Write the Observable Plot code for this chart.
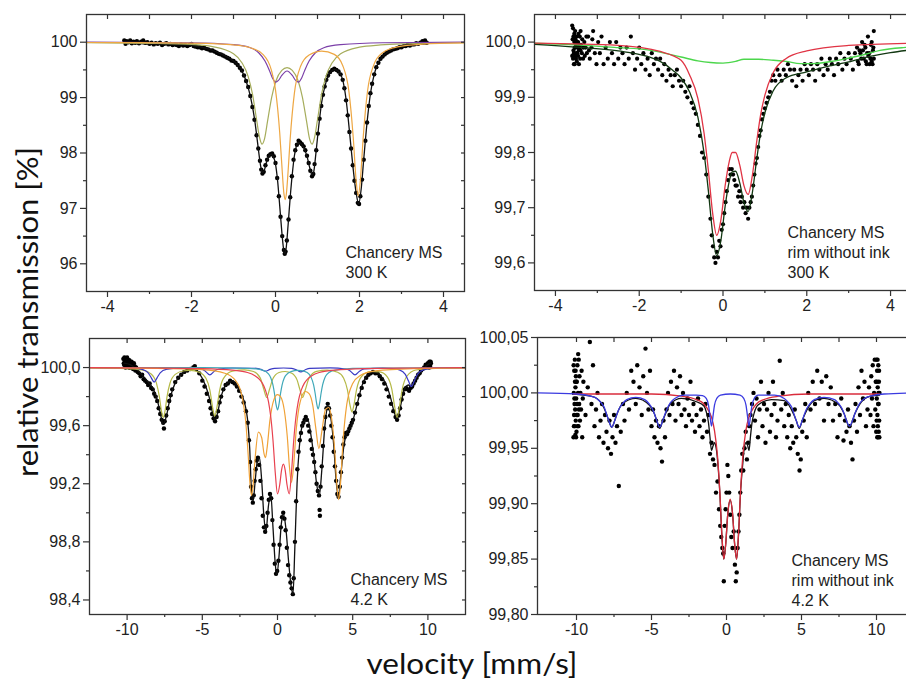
<!DOCTYPE html>
<html><head><meta charset="utf-8">
<script src="https://cdn.jsdelivr.net/npm/d3@7"></script>
<script src="https://cdn.jsdelivr.net/npm/@observablehq/plot@0.6"></script>
<style>
body{margin:0;background:#fff;}
#wrap{position:relative;width:906px;height:689px;overflow:hidden;background:#fff;}
.panel{position:absolute;width:470px;}
.panel svg{max-width:none !important;}
#labels{position:absolute;left:0;top:0;pointer-events:none;}
</style></head><body><div id="wrap">
<div class="panel" id="tl" style="left:0;top:0"></div>
<div class="panel" id="tr" style="left:450px;top:0"></div>
<div class="panel" id="bl" style="left:0;top:310px"></div>
<div class="panel" id="br" style="left:450px;top:310px"></div>
<svg id="labels" width="906" height="689" font-family="Lato, 'Open Sans', sans-serif" fill="#111">
<text transform="translate(38,312) rotate(-90)" text-anchor="middle" font-size="28" textLength="330" lengthAdjust="spacingAndGlyphs">relative transmission [%]</text>
<text x="472" y="674" text-anchor="middle" font-size="28" textLength="211" lengthAdjust="spacingAndGlyphs">velocity [mm/s]</text>
</svg>
</div>
<script>
// ---------- Top-left: Chancery MS, 300 K ----------
const tlData = [[-3.60,100.03],[-3.57,99.97],[-3.54,100.02],[-3.50,100.00],[-3.46,100.03],[-3.42,99.98],[-3.38,100.01],[-3.34,99.99],[-3.30,100.02],[-3.25,99.98],[-3.20,100.01],[-3.15,100.03],[-3.10,99.99],[-3.05,100.00],[-3.00,99.97],[-2.95,99.99],[-2.90,99.96],[-2.85,99.98],[-2.80,99.97],[-2.75,99.99],[-2.70,99.95],[-2.65,99.97],[-2.60,99.98],[-2.55,99.96],[-2.50,99.97],[-2.45,99.95],[-2.40,99.96],[-2.35,99.95],[-2.30,99.93],[-2.25,99.96],[-2.20,99.94],[-2.15,99.95],[-2.10,99.93],[-2.05,99.95],[-2.00,99.97],[-1.95,99.93],[-1.90,99.92],[-1.85,99.91],[-1.80,99.91],[-1.75,99.89],[-1.70,99.90],[-1.65,99.88],[-1.60,99.87],[-1.55,99.85],[-1.50,99.85],[-1.45,99.83],[-1.40,99.81],[-1.35,99.79],[-1.30,99.78],[-1.25,99.76],[-1.20,99.74],[-1.15,99.72],[-1.10,99.70],[-1.05,99.67],[-1.00,99.66],[-0.95,99.63],[-0.90,99.59],[-0.85,99.54],[-0.80,99.49],[-0.75,99.40],[-0.70,99.30],[-0.65,99.19],[-0.60,99.03],[-0.55,98.83],[-0.50,98.60],[-0.45,98.32],[-0.41,98.08],[-0.37,97.86],[-0.34,97.70],[-0.31,97.63],[-0.28,97.66],[-0.24,97.78],[-0.20,97.88],[-0.16,97.95],[-0.12,97.98],[-0.08,97.99],[-0.04,97.94],[0.00,97.82],[0.04,97.55],[0.08,97.22],[0.12,96.85],[0.16,96.50],[0.20,96.25],[0.22,96.18],[0.24,96.22],[0.27,96.42],[0.31,96.80],[0.35,97.20],[0.39,97.58],[0.43,97.88],[0.47,98.05],[0.51,98.15],[0.55,98.22],[0.59,98.19],[0.63,98.16],[0.67,98.12],[0.71,98.05],[0.75,97.95],[0.79,97.82],[0.83,97.68],[0.87,97.58],[0.90,97.62],[0.93,97.80],[0.97,98.05],[1.01,98.35],[1.05,98.62],[1.09,98.85],[1.13,99.05],[1.17,99.20],[1.21,99.32],[1.25,99.40],[1.30,99.46],[1.35,99.50],[1.40,99.52],[1.45,99.50],[1.50,99.47],[1.55,99.42],[1.60,99.32],[1.64,99.17],[1.68,98.95],[1.72,98.68],[1.76,98.38],[1.80,98.08],[1.84,97.78],[1.88,97.50],[1.92,97.28],[1.96,97.10],[1.99,97.08],[2.02,97.22],[2.06,97.52],[2.10,97.88],[2.14,98.22],[2.18,98.55],[2.22,98.85],[2.26,99.08],[2.30,99.25],[2.35,99.42],[2.40,99.55],[2.45,99.63],[2.50,99.70],[2.55,99.74],[2.60,99.78],[2.65,99.81],[2.70,99.83],[2.75,99.85],[2.80,99.87],[2.85,99.88],[2.90,99.89],[2.95,99.91],[3.00,99.91],[3.05,99.93],[3.10,99.93],[3.15,99.95],[3.20,99.94],[3.25,99.96],[3.30,99.96],[3.35,99.98],[3.40,99.97],[3.45,99.99],[3.50,100.02],[3.53,100.00],[3.56,100.03],[3.60,99.99]];
const tlFit = [[-3.6,99.99],[-3.0,99.97],[-2.5,99.96],[-2.0,99.94],[-1.6,99.88],[-1.3,99.79],[-1.1,99.71],[-1.0,99.66],[-0.9,99.59],[-0.8,99.48],[-0.7,99.30],[-0.6,99.03],[-0.5,98.62],[-0.45,98.33],[-0.4,98.02],[-0.35,97.75],[-0.31,97.65],[-0.27,97.68],[-0.22,97.82],[-0.16,97.94],[-0.1,97.98],[-0.05,97.93],[0.0,97.80],[0.05,97.50],[0.1,97.05],[0.15,96.58],[0.19,96.28],[0.22,96.18],[0.25,96.26],[0.3,96.70],[0.35,97.20],[0.4,97.62],[0.45,97.95],[0.5,98.13],[0.55,98.19],[0.6,98.17],[0.67,98.10],[0.75,97.94],[0.82,97.72],[0.87,97.60],[0.91,97.66],[0.96,97.98],[1.02,98.42],[1.1,98.92],[1.2,99.27],[1.3,99.45],[1.4,99.51],[1.5,99.47],[1.6,99.32],[1.68,98.97],[1.76,98.40],[1.84,97.78],[1.92,97.28],[1.98,97.08],[2.04,97.35],[2.1,97.88],[2.18,98.55],[2.26,99.07],[2.35,99.42],[2.45,99.63],[2.6,99.78],[2.8,99.87],[3.0,99.92],[3.3,99.95],[3.6,99.97]];
const tlOlive = [[-4.5,99.99],[-3,99.98],[-2,99.96],[-1.5,99.92],[-1,99.79],[-0.8,99.63],[-0.65,99.38],[-0.55,99.07],[-0.45,98.60],[-0.38,98.28],[-0.32,98.16],[-0.26,98.26],[-0.19,98.57],[-0.09,99.01],[0.01,99.30],[0.15,99.49],[0.275,99.54],[0.4,99.49],[0.54,99.30],[0.64,99.01],[0.74,98.57],[0.81,98.26],[0.87,98.16],[0.93,98.28],[1.0,98.60],[1.1,99.07],[1.2,99.38],[1.35,99.63],[1.55,99.79],[2.0,99.91],[2.5,99.95],[3.0,99.97],[4.5,99.99]];
const tlPurple = [[-4.5,100.0],[-2,99.99],[-1,99.955],[-0.6,99.90],[-0.4,99.81],[-0.25,99.66],[-0.15,99.50],[-0.07,99.35],[0,99.28],[0.07,99.31],[0.15,99.40],[0.275,99.48],[0.4,99.40],[0.48,99.31],[0.55,99.28],[0.62,99.35],[0.7,99.50],[0.8,99.66],[0.95,99.81],[1.15,99.90],[1.55,99.955],[2.55,99.99],[4.5,100.0]];
const tlOrange = [[-4.5,99.995],[-3.5,99.993],[-2.5,99.989],[-1.5,99.974],[-1,99.952],[-0.6,99.90],[-0.3,99.78],[-0.1,99.50],[0,99.14],[0.1,98.37],[0.15,97.79],[0.2,97.27],[0.23,97.16],[0.26,97.27],[0.3,97.67],[0.35,98.26],[0.45,99.08],[0.6,99.57],[0.8,99.77],[1.1,99.84],[1.4,99.78],[1.6,99.58],[1.75,99.10],[1.85,98.29],[1.92,97.50],[1.97,97.225],[2.02,97.50],[2.09,98.30],[2.19,99.11],[2.34,99.59],[2.55,99.81],[2.9,99.915],[3.5,99.964],[4.5,99.987]];
const tlXTicks = [-4,-2,0,2,4], tlXMinor = [-3,-1,1,3];
const tlYTicks = [96,97,98,99,100], tlYMinor = [96.5,97.5,98.5,99.5];

// ---------- Top-right: rim without ink, 300 K ----------
const trData = [[-3.60,100.03],[-3.60,99.975],[-3.59,100.005],[-3.58,99.97],[-3.58,100.025],[-3.57,100.01],[-3.57,99.985],[-3.56,99.98],[-3.56,99.96],[-3.55,100.00],[-3.55,100.015],[-3.54,99.96],[-3.54,99.99],[-3.53,100.02],[-3.53,99.975],[-3.52,99.99],[-3.52,100.005],[-3.51,99.97],[-3.51,99.995],[-3.50,100.01],[-3.50,99.98],[-3.49,99.965],[-3.48,99.98],[-3.48,100.00],[-3.47,99.99],[-3.46,100.00],[-3.46,99.975],[-3.45,100.015],[-3.44,99.96],[-3.44,99.985],[-3.43,99.995],[-3.42,99.99],[-3.42,100.01],[-3.41,99.97],[-3.40,100.02],[-3.40,99.985],[-3.39,99.995],[-3.37,99.98],[-3.36,100.005],[-3.34,99.97],[-3.33,99.99],[-3.31,100.00],[-3.30,99.975],[-3.28,99.99],[-3.26,100.01],[-3.25,99.98],[-3.22,100.01],[-3.20,99.985],[-3.18,99.97],[-3.14,99.99],[-3.12,100.005],[-3.10,100.02],[-3.06,99.98],[-3.02,99.96],[-2.98,100.00],[-2.94,99.98],[-2.90,100.01],[-2.85,99.96],[-2.80,99.99],[-2.75,99.97],[-2.70,100.00],[-2.65,99.98],[-2.60,99.96],[-2.55,100.00],[-2.50,99.97],[-2.45,99.99],[-2.40,99.98],[-2.35,99.96],[-2.30,99.99],[-2.25,99.97],[-2.20,100.01],[-2.15,99.98],[-2.10,99.95],[-2.05,99.97],[-2.00,99.99],[-1.95,99.96],[-1.90,99.98],[-1.85,99.95],[-1.80,99.97],[-1.75,99.94],[-1.70,99.98],[-1.65,99.96],[-1.60,99.97],[-1.55,99.95],[-1.50,99.97],[-1.45,99.94],[-1.40,99.96],[-1.35,99.93],[-1.30,99.95],[-1.25,99.94],[-1.20,99.92],[-1.15,99.94],[-1.10,99.95],[-1.05,99.93],[-1.00,99.92],[-0.95,99.93],[-0.90,99.91],[-0.85,99.90],[-0.80,99.92],[-0.75,99.89],[-0.70,99.88],[-0.65,99.87],[-0.60,99.85],[-0.55,99.83],[-0.50,99.80],[-0.45,99.79],[-0.40,99.76],[-0.35,99.72],[-0.30,99.68],[-0.27,99.65],[-0.24,99.63],[-0.21,99.61],[-0.18,99.60],[-0.15,99.62],[-0.12,99.61],[-0.09,99.64],[-0.06,99.63],[-0.03,99.66],[0.00,99.67],[0.03,99.69],[0.06,99.71],[0.09,99.73],[0.12,99.75],[0.15,99.77],[0.18,99.76],[0.21,99.77],[0.24,99.76],[0.27,99.75],[0.30,99.74],[0.33,99.74],[0.36,99.72],[0.39,99.73],[0.42,99.71],[0.45,99.72],[0.48,99.70],[0.51,99.71],[0.54,99.69],[0.57,99.70],[0.60,99.68],[0.63,99.70],[0.66,99.71],[0.69,99.72],[0.72,99.74],[0.75,99.76],[0.78,99.78],[0.81,99.79],[0.84,99.81],[0.87,99.83],[0.90,99.84],[0.93,99.86],[0.96,99.87],[1.00,99.88],[1.04,99.89],[1.08,99.90],[1.12,99.91],[1.16,99.93],[1.20,99.94],[1.25,99.93],[1.30,99.95],[1.35,99.94],[1.40,99.93],[1.45,99.95],[1.50,99.94],[1.55,99.96],[1.60,99.95],[1.65,99.93],[1.70,99.95],[1.75,99.92],[1.80,99.94],[1.85,99.95],[1.90,99.93],[1.95,99.96],[2.00,99.95],[2.05,99.94],[2.10,99.96],[2.15,99.95],[2.20,99.93],[2.25,99.96],[2.30,99.95],[2.35,99.97],[2.40,99.94],[2.45,99.96],[2.50,99.95],[2.55,99.97],[2.60,99.96],[2.65,99.94],[2.70,99.97],[2.75,99.96],[2.80,99.98],[2.85,99.95],[2.90,99.97],[2.95,99.96],[3.00,99.98],[3.05,99.97],[3.10,99.95],[3.15,99.98],[3.20,99.99],[3.22,99.965],[3.24,99.96],[3.26,99.985],[3.28,99.98],[3.30,99.97],[3.32,100.00],[3.34,99.985],[3.36,99.97],[3.38,99.995],[3.40,99.99],[3.41,99.965],[3.43,99.96],[3.44,99.98],[3.46,100.01],[3.47,99.975],[3.49,99.98],[3.50,99.96],[3.52,99.97],[3.53,99.995],[3.55,100.00],[3.55,99.965],[3.57,99.96],[3.58,99.985],[3.59,99.99],[3.60,100.02],[3.60,99.97]];
const trRed = [[-4.5,99.998],[-2.5,99.994],[-1.5,99.983],[-1.0,99.967],[-0.8,99.941],[-0.6,99.898],[-0.45,99.834],[-0.35,99.768],[-0.25,99.692],[-0.15,99.650],[-0.05,99.678],[0.05,99.739],[0.15,99.784],[0.22,99.80],[0.3,99.80],[0.4,99.777],[0.5,99.74],[0.6,99.724],[0.7,99.758],[0.8,99.817],[0.9,99.869],[1.0,99.904],[1.2,99.945],[1.5,99.97],[2,99.984],[3,99.994],[4.5,99.998]];
const trGreen = [[-4.5,99.998],[-3.5,99.995],[-2.5,99.99],[-1.8,99.986],[-1.0,99.973],[-0.6,99.966],[-0.3,99.963],[0.0,99.962],[0.3,99.965],[0.5,99.969],[0.85,99.969],[1.2,99.967],[1.5,99.965],[1.85,99.961],[2.15,99.961],[2.5,99.964],[2.95,99.970],[3.4,99.978],[3.75,99.985],[4.3,99.99],[4.5,99.991]];
const trFit = [[-4.5,99.996],[-3.5,99.991],[-2.5,99.984],[-1.8,99.974],[-1.5,99.965],[-1.2,99.949],[-1.0,99.935],[-0.8,99.91],[-0.6,99.864],[-0.45,99.798],[-0.35,99.731],[-0.25,99.655],[-0.15,99.613],[-0.05,99.641],[0.05,99.702],[0.15,99.748],[0.22,99.765],[0.3,99.766],[0.4,99.745],[0.5,99.709],[0.6,99.693],[0.7,99.727],[0.8,99.785],[0.9,99.837],[1.0,99.872],[1.2,99.912],[1.5,99.935],[2.0,99.946],[2.5,99.956],[3.0,99.964],[3.5,99.974],[4.0,99.981],[4.5,99.986]];
const trYTicks = [99.6,99.7,99.8,99.9,100.0], trYMinor = [99.65,99.75,99.85,99.95];

// ---------- Bottom-left: Chancery MS, 4.2 K ----------
const blData = [[-10.25,100.06],[-10.22,100.03],[-10.20,100.02],[-10.18,100.07],[-10.15,100.05],[-10.12,100.01],[-10.10,100.00],[-10.08,100.04],[-10.05,100.04],[-10.02,100.02],[-10.00,100.07],[-9.97,100.03],[-9.95,100.01],[-9.92,100.05],[-9.90,100.03],[-9.87,100.00],[-9.85,100.05],[-9.82,100.03],[-9.80,100.00],[-9.75,100.02],[-9.70,100.04],[-9.65,100.01],[-9.60,99.99],[-9.55,100.03],[-9.50,100.01],[-9.45,99.98],[-9.40,100.00],[-9.30,99.97],[-9.20,99.96],[-9.10,99.94],[-9.00,99.95],[-8.90,99.92],[-8.80,99.91],[-8.70,99.90],[-8.60,99.88],[-8.50,99.89],[-8.40,99.86],[-8.30,99.85],[-8.20,99.82],[-8.10,99.80],[-8.00,99.77],[-7.90,99.72],[-7.80,99.68],[-7.70,99.64],[-7.60,99.62],[-7.55,99.58],[-7.50,99.63],[-7.40,99.67],[-7.30,99.72],[-7.20,99.77],[-7.10,99.81],[-7.00,99.85],[-6.80,99.90],[-6.60,99.93],[-6.40,99.95],[-6.20,99.97],[-6.00,99.98],[-5.80,99.99],[-5.60,100.00],[-5.50,100.01],[-5.40,99.99],[-5.20,99.96],[-5.00,99.91],[-4.85,99.87],[-4.70,99.82],[-4.55,99.77],[-4.45,99.72],[-4.35,99.68],[-4.25,99.65],[-4.15,99.63],[-4.05,99.66],[-3.95,99.70],[-3.85,99.76],[-3.75,99.80],[-3.60,99.85],[-3.45,99.88],[-3.30,99.89],[-3.15,99.91],[-3.00,99.90],[-2.85,99.89],[-2.70,99.87],[-2.55,99.84],[-2.40,99.80],[-2.25,99.76],[-2.10,99.70],[-1.98,99.62],[-1.90,99.50],[-1.82,99.35],[-1.76,99.18],[-1.70,99.10],[-1.64,99.07],[-1.58,99.12],[-1.52,99.22],[-1.45,99.30],[-1.38,99.36],[-1.30,99.38],[-1.22,99.33],[-1.14,99.22],[-1.06,99.10],[-0.98,98.98],[-0.90,98.90],[-0.82,98.87],[-0.74,98.91],[-0.66,99.00],[-0.58,99.09],[-0.50,99.13],[-0.42,99.10],[-0.34,98.95],[-0.26,98.78],[-0.18,98.65],[-0.10,98.58],[-0.02,98.60],[0.06,98.67],[0.14,98.78],[0.22,98.90],[0.30,98.97],[0.38,99.00],[0.46,98.96],[0.54,98.88],[0.62,98.76],[0.70,98.64],[0.78,98.57],[0.86,98.52],[0.94,98.48],[1.02,98.44],[1.08,98.55],[1.16,98.80],[1.24,99.08],[1.32,99.30],[1.40,99.42],[1.48,99.50],[1.56,99.55],[1.64,99.60],[1.72,99.62],[1.80,99.64],[1.88,99.66],[1.96,99.64],[2.04,99.60],[2.12,99.56],[2.20,99.50],[2.28,99.44],[2.36,99.40],[2.44,99.35],[2.52,99.28],[2.60,99.20],[2.68,99.15],[2.76,99.12],[2.80,99.02],[2.82,98.98],[2.86,99.18],[2.94,99.32],[3.02,99.46],[3.10,99.58],[3.18,99.66],[3.26,99.72],[3.34,99.75],[3.42,99.72],[3.50,99.67],[3.58,99.60],[3.66,99.52],[3.74,99.42],[3.82,99.32],[3.90,99.22],[3.98,99.13],[4.06,99.11],[4.14,99.18],[4.22,99.28],[4.30,99.38],[4.38,99.47],[4.46,99.52],[4.54,99.55],[4.62,99.54],[4.70,99.56],[4.78,99.58],[4.86,99.60],[4.94,99.62],[5.02,99.64],[5.15,99.69],[5.30,99.75],[5.45,99.81],[5.60,99.86],[5.75,99.90],[5.90,99.93],[6.05,99.95],[6.20,99.96],[6.35,99.97],[6.50,99.96],[6.65,99.96],[6.80,99.94],[6.95,99.92],[7.10,99.89],[7.25,99.85],[7.40,99.80],[7.55,99.75],[7.70,99.70],[7.85,99.66],[7.95,99.64],[8.05,99.67],[8.15,99.72],[8.25,99.78],[8.35,99.82],[8.45,99.85],[8.55,99.86],[8.65,99.85],[8.75,99.84],[8.85,99.86],[8.95,99.87],[9.05,99.89],[9.15,99.91],[9.25,99.93],[9.35,99.95],[9.45,99.96],[9.55,99.98],[9.65,99.99],[9.75,100.00],[9.85,100.02],[9.95,100.01],[10.00,100.03],[10.05,100.02],[10.08,100.00],[10.10,100.04],[10.12,100.02],[10.15,100.01],[10.18,100.04],[10.20,100.03]];
const blFit = [[-10.2,100.03],[-9.8,100.02],[-9.4,99.99],[-9.0,99.95],[-8.6,99.90],[-8.3,99.86],[-8.0,99.78],[-7.8,99.69],[-7.6,99.61],[-7.4,99.66],[-7.2,99.76],[-7.0,99.84],[-6.6,99.93],[-6.2,99.97],[-5.8,99.99],[-5.5,99.99],[-5.2,99.96],[-4.8,99.88],[-4.5,99.78],[-4.3,99.68],[-4.15,99.64],[-4.0,99.68],[-3.8,99.78],[-3.5,99.87],[-3.2,99.90],[-3.0,99.91],[-2.8,99.89],[-2.5,99.84],[-2.2,99.76],[-2.0,99.65],[-1.85,99.45],[-1.73,99.15],[-1.62,99.08],[-1.5,99.20],[-1.35,99.35],[-1.2,99.38],[-1.05,99.22],[-0.9,98.97],[-0.77,98.87],[-0.6,99.05],[-0.45,99.13],[-0.3,98.90],[-0.15,98.65],[-0.05,98.57],[0.1,98.70],[0.25,98.92],[0.4,98.99],[0.55,98.90],[0.75,98.65],[0.9,98.50],[1.03,98.44],[1.15,98.75],[1.3,99.20],[1.45,99.45],[1.6,99.58],[1.8,99.63],[2.0,99.65],[2.2,99.55],[2.4,99.40],[2.6,99.20],[2.78,99.12],[2.95,99.30],[3.15,99.60],[3.37,99.73],[3.55,99.65],[3.75,99.45],[3.9,99.22],[4.05,99.11],[4.2,99.25],[4.4,99.45],[4.6,99.55],[4.8,99.58],[5.0,99.63],[5.3,99.75],[5.6,99.87],[6.0,99.95],[6.4,99.97],[6.8,99.95],[7.2,99.89],[7.5,99.80],[7.8,99.68],[7.95,99.65],[8.15,99.72],[8.4,99.84],[8.7,99.88],[8.9,99.87],[9.2,99.92],[9.6,99.98],[10.0,100.02],[10.2,100.03]];
const blOlive = [[-12.5,99.998],[-10,99.993],[-9,99.983],[-8.4,99.956],[-8.05,99.893],[-7.85,99.797],[-7.72,99.704],[-7.6,99.656],[-7.48,99.70],[-7.35,99.797],[-7.15,99.892],[-6.8,99.953],[-6.2,99.978],[-5.8,99.98],[-5.2,99.968],[-4.75,99.925],[-4.5,99.847],[-4.3,99.718],[-4.17,99.666],[-4.04,99.719],[-3.84,99.847],[-3.6,99.924],[-3.0,99.975],[-2.2,99.984],[-1.6,99.973],[-1.15,99.929],[-0.9,99.847],[-0.72,99.794],[-0.54,99.847],[-0.3,99.924],[0.1,99.966],[0.5,99.973],[0.95,99.961],[1.3,99.915],[1.49,99.848],[1.67,99.794],[1.85,99.847],[2.1,99.928],[2.6,99.974],[3.3,99.982],[4.0,99.968],[4.4,99.927],[4.65,99.846],[4.83,99.737],[4.95,99.695],[5.07,99.736],[5.25,99.845],[5.6,99.94],[6.2,99.973],[6.8,99.97],[7.3,99.936],[7.6,99.852],[7.8,99.725],[7.95,99.657],[8.1,99.727],[8.3,99.854],[8.6,99.94],[9.2,99.983],[10.5,99.995],[12.5,99.998]];
const blBlue = [[-12.5,100.0],[-9.5,99.995],[-9,99.988],[-8.6,99.964],[-8.4,99.931],[-8.2,99.90],[-8.0,99.931],[-7.8,99.964],[-7.4,99.988],[-6.5,99.996],[-5.1,99.99],[-4.8,99.975],[-4.5,99.95],[-4.2,99.975],[-3.9,99.99],[-3,99.997],[-1.4,99.995],[-1.1,99.987],[-0.8,99.975],[-0.5,99.987],[-0.2,99.995],[0.4,99.997],[0.95,99.994],[1.25,99.985],[1.55,99.97],[1.85,99.985],[2.15,99.994],[3.5,99.998],[4.55,99.99],[4.85,99.975],[5.15,99.95],[5.45,99.975],[5.75,99.99],[7.0,99.996],[7.7,99.992],[8.1,99.984],[8.5,99.953],[8.7,99.91],[8.9,99.87],[9.1,99.91],[9.3,99.953],[9.7,99.984],[10.5,99.996],[12.5,99.999]];
const blTeal = [[-12.5,100.0],[-5,99.999],[-2,99.995],[-1,99.982],[-0.6,99.956],[-0.45,99.93],[-0.3,99.879],[-0.2,99.821],[-0.1,99.748],[0,99.708],[0.1,99.748],[0.2,99.82],[0.3,99.878],[0.45,99.928],[0.6,99.952],[0.9,99.972],[1.35,99.981],[1.8,99.974],[2.1,99.954],[2.25,99.929],[2.4,99.881],[2.5,99.825],[2.6,99.755],[2.7,99.716],[2.8,99.755],[2.9,99.825],[3.0,99.881],[3.15,99.93],[3.3,99.955],[3.6,99.976],[4.05,99.985],[5,99.995],[12.5,100.0]];
const blOrange = [[-12.5,99.998],[-8,99.995],[-5,99.986],[-3.5,99.961],[-2.8,99.912],[-2.4,99.82],[-2.1,99.613],[-1.95,99.40],[-1.83,99.20],[-1.73,99.12],[-1.63,99.18],[-1.5,99.36],[-1.27,99.556],[-1.05,99.517],[-0.9,99.41],[-0.8,99.38],[-0.7,99.44],[-0.5,99.64],[-0.25,99.776],[0,99.814],[0.2,99.80],[0.45,99.708],[0.65,99.525],[0.8,99.31],[0.93,99.21],[1.06,99.31],[1.25,99.577],[1.5,99.76],[1.85,99.835],[2.1,99.82],[2.35,99.737],[2.55,99.58],[2.75,99.442],[2.95,99.563],[3.2,99.713],[3.41,99.725],[3.6,99.648],[3.8,99.436],[3.95,99.19],[4.07,99.09],[4.19,99.20],[4.35,99.48],[4.6,99.743],[5.0,99.89],[5.5,99.945],[6.5,99.977],[9,99.992],[12.5,99.997]];
const blRed = [[-12.5,99.999],[-8,99.997],[-5,99.993],[-3,99.982],[-2,99.966],[-1.5,99.944],[-1.2,99.919],[-1.0,99.891],[-0.8,99.845],[-0.6,99.766],[-0.45,99.663],[-0.3,99.50],[-0.15,99.278],[0,99.13],[0.15,99.195],[0.27,99.294],[0.39,99.335],[0.51,99.294],[0.63,99.195],[0.78,99.13],[0.93,99.278],[1.08,99.50],[1.23,99.663],[1.38,99.766],[1.58,99.845],[1.78,99.891],[1.98,99.919],[2.28,99.944],[2.78,99.966],[3.78,99.982],[5.78,99.993],[8.78,99.997],[12.5,99.999]];
const lowXTicks = [-10,-5,0,5,10], lowXMinor = [-7.5,-2.5,2.5,7.5];
const blYTicks = [98.4,98.8,99.2,99.6,100.0], blYMinor = [98.6,99.0,99.4,99.8];

// ---------- Bottom-right: rim without ink, 4.2 K ----------
const brData = [[-10.20,99.96],[-10.19,100.025],[-10.18,100.00],[-10.17,99.97],[-10.16,99.98],[-10.15,100.02],[-10.14,99.995],[-10.13,99.99],[-10.12,99.97],[-10.11,100.03],[-10.10,100.01],[-10.09,99.985],[-10.08,99.962],[-10.07,100.005],[-10.06,100.02],[-10.05,99.975],[-10.04,100.015],[-10.03,99.96],[-10.02,99.995],[-10.01,100.01],[-10.00,99.965],[-9.99,99.98],[-9.98,100.01],[-9.96,99.99],[-9.94,100.025],[-9.93,99.97],[-9.92,99.98],[-9.90,100.00],[-9.89,100.035],[-9.87,99.97],[-9.85,100.03],[-9.84,99.985],[-9.82,99.99],[-9.80,100.015],[-9.77,99.975],[-9.74,100.00],[-9.70,99.985],[-9.66,100.02],[-9.62,99.96],[-9.58,99.995],[-9.54,100.01],[-9.40,99.98],[-9.25,100.005],[-9.11,100.046],[-9.00,99.99],[-8.90,100.025],[-8.80,99.97],[-8.70,99.985],[-8.60,100.00],[-8.50,99.96],[-8.40,99.975],[-8.30,99.99],[-8.20,99.955],[-8.10,99.98],[-8.00,99.965],[-7.90,99.95],[-7.80,99.975],[-7.70,99.945],[-7.60,99.96],[-7.50,99.98],[-7.40,99.955],[-7.30,99.97],[-7.18,99.916],[-7.05,99.965],[-6.90,99.99],[-6.80,99.975],[-6.65,100.00],[-6.50,99.985],[-6.35,100.02],[-6.20,100.01],[-6.05,99.99],[-5.95,100.025],[-5.80,100.005],[-5.65,99.98],[-5.55,100.015],[-5.40,100.04],[-5.30,100.00],[-5.20,99.985],[-5.10,100.02],[-5.00,99.97],[-4.90,99.985],[-4.80,99.96],[-4.70,99.975],[-4.60,99.955],[-4.50,99.97],[-4.40,99.95],[-4.30,99.938],[-4.20,99.975],[-4.10,99.96],[-4.00,99.985],[-3.90,100.00],[-3.80,99.98],[-3.70,100.01],[-3.60,99.99],[-3.50,100.02],[-3.40,99.975],[-3.30,100.005],[-3.20,99.99],[-3.10,100.015],[-3.00,99.98],[-2.90,100.00],[-2.80,99.985],[-2.70,99.97],[-2.60,99.995],[-2.50,99.98],[-2.40,100.01],[-2.30,99.975],[-2.20,99.99],[-2.10,99.965],[-2.00,99.98],[-1.90,99.995],[-1.80,99.97],[-1.70,99.985],[-1.60,99.96],[-1.50,99.975],[-1.40,99.99],[-1.30,99.965],[-1.20,99.98],[-1.10,99.945],[-1.00,99.955],[-0.90,99.94],[-0.80,99.935],[-0.70,99.91],[-0.60,99.92],[-0.50,99.895],[-0.42,99.88],[-0.35,99.87],[-0.28,99.86],[-0.22,99.855],[-0.18,99.83],[-0.12,99.88],[-0.06,99.895],[0.00,99.91],[0.06,99.935],[0.12,99.925],[0.18,99.91],[0.25,99.89],[0.32,99.87],[0.40,99.86],[0.48,99.875],[0.56,99.845],[0.62,99.83],[0.68,99.838],[0.74,99.86],[0.80,99.875],[0.86,99.89],[0.92,99.91],[0.98,99.93],[1.05,99.945],[1.12,99.93],[1.20,99.95],[1.28,99.965],[1.36,99.94],[1.44,99.955],[1.52,99.97],[1.60,99.98],[1.70,99.99],[1.80,100.00],[1.90,99.975],[2.00,99.995],[2.10,99.96],[2.20,99.985],[2.30,100.01],[2.40,99.97],[2.50,99.99],[2.60,99.955],[2.70,99.985],[2.80,100.00],[2.90,99.965],[3.00,99.98],[3.10,100.01],[3.20,99.99],[3.30,99.96],[3.40,99.975],[3.55,100.029],[3.65,99.985],[3.75,100.00],[3.85,99.97],[3.95,99.99],[4.05,99.96],[4.15,99.98],[4.25,99.95],[4.35,99.97],[4.45,99.955],[4.55,99.985],[4.65,99.96],[4.75,99.945],[4.87,99.93],[4.95,99.94],[5.05,99.965],[5.15,99.975],[5.25,99.99],[5.35,99.96],[5.45,100.00],[5.60,99.985],[5.75,100.01],[5.90,99.99],[6.05,100.02],[6.20,99.995],[6.35,100.01],[6.50,99.975],[6.65,100.015],[6.80,99.99],[6.95,100.005],[7.10,99.975],[7.25,99.99],[7.40,99.96],[7.55,99.98],[7.65,99.995],[7.80,99.957],[7.90,99.975],[8.00,99.965],[8.10,99.985],[8.20,99.97],[8.30,99.955],[8.40,99.94],[8.50,99.975],[8.60,99.99],[8.70,99.965],[8.80,100.005],[8.90,99.98],[9.00,100.02],[9.10,99.995],[9.20,100.01],[9.30,99.97],[9.40,99.985],[9.50,100.005],[9.60,99.98],[9.65,100.015],[9.70,99.995],[9.75,100.025],[9.80,99.97],[9.84,100.00],[9.88,100.03],[9.92,99.985],[9.95,100.01],[9.98,99.965],[10.00,100.03],[10.01,99.975],[10.02,99.995],[10.03,100.01],[10.04,100.02],[10.05,99.96],[10.06,99.98],[10.07,100.03],[10.08,100.005],[10.09,99.97],[10.10,99.96],[10.11,99.99],[10.12,100.025],[10.13,100.0],[10.14,99.99],[10.15,99.965],[10.16,100.01],[10.17,100.02],[10.18,99.975],[10.19,99.96],[10.20,100.00]];
const brFit = [[-10.2,99.999],[-9.05,99.997],[-8.65,99.995],[-8.35,99.991],[-8.0,99.981],[-7.85,99.975],[-7.65,99.969],[-7.45,99.975],[-7.3,99.981],[-6.95,99.990],[-6.05,99.995],[-5.15,99.989],[-4.8,99.981],[-4.65,99.975],[-4.45,99.968],[-4.25,99.975],[-4.1,99.980],[-3.75,99.990],[-3.0,99.995],[-2.0,99.992],[-1.5,99.988],[-1.35,99.983],[-1.2,99.973],[-1.1,99.960],[-1.0,99.948],[-0.9,99.952],[-0.8,99.955],[-0.7,99.951],[-0.6,99.940],[-0.45,99.911],[-0.3,99.869],[-0.18,99.850],[-0.05,99.864],[0.08,99.89],[0.245,99.903],[0.41,99.89],[0.54,99.864],[0.67,99.850],[0.79,99.869],[0.94,99.911],[1.09,99.937],[1.2,99.952],[1.3,99.955],[1.4,99.953],[1.5,99.948],[1.6,99.961],[1.7,99.973],[1.85,99.982],[2.1,99.989],[3.0,99.994],[3.85,99.993],[4.5,99.98],[4.65,99.975],[4.85,99.968],[5.05,99.975],[5.2,99.98],[5.85,99.993],[6.5,99.995],[7.5,99.989],[7.85,99.981],[8.2,99.969],[8.55,99.981],[8.9,99.990],[9.6,99.997],[10.2,99.998]];
const brRed = [[-10.2,99.999],[-5,99.999],[-3,99.997],[-2,99.994],[-1.5,99.99],[-1.2,99.984],[-1.0,99.978],[-0.8,99.966],[-0.6,99.943],[-0.45,99.912],[-0.3,99.870],[-0.18,99.850],[-0.05,99.864],[0.08,99.89],[0.245,99.904],[0.41,99.89],[0.54,99.864],[0.67,99.850],[0.79,99.870],[0.94,99.912],[1.09,99.943],[1.29,99.966],[1.49,99.978],[1.69,99.984],[1.99,99.99],[2.49,99.994],[3.49,99.997],[5.5,99.999],[10.2,99.999]];
const brBlue = [[-12.6,100.0],[-10,99.999],[-9.05,99.997],[-8.65,99.995],[-8.35,99.991],[-8.15,99.987],[-8.0,99.981],[-7.85,99.975],[-7.65,99.969],[-7.45,99.975],[-7.3,99.981],[-7.15,99.986],[-6.95,99.990],[-6.65,99.994],[-6.05,99.996],[-5.45,99.994],[-5.15,99.990],[-4.95,99.986],[-4.8,99.981],[-4.65,99.975],[-4.45,99.969],[-4.25,99.975],[-4.1,99.981],[-3.95,99.986],[-3.75,99.991],[-3.45,99.995],[-2.8,99.998],[-2.0,99.998],[-1.6,99.9975],[-1.35,99.995],[-1.2,99.989],[-1.1,99.979],[-1.0,99.970],[-0.9,99.979],[-0.8,99.989],[-0.65,99.995],[-0.4,99.998],[0.25,99.999],[0.9,99.998],[1.15,99.995],[1.3,99.989],[1.4,99.979],[1.5,99.970],[1.6,99.979],[1.7,99.989],[1.85,99.995],[2.1,99.998],[3.2,99.998],[3.85,99.995],[4.15,99.991],[4.35,99.987],[4.5,99.981],[4.65,99.975],[4.85,99.969],[5.05,99.975],[5.2,99.981],[5.35,99.986],[5.55,99.990],[5.85,99.994],[6.5,99.996],[7.2,99.994],[7.5,99.990],[7.7,99.986],[7.85,99.981],[8.0,99.975],[8.2,99.970],[8.4,99.975],[8.55,99.981],[8.7,99.986],[8.9,99.991],[9.2,99.995],[9.6,99.997],[10.5,99.999],[12.6,100.0]];
const brYTicks = [99.80,99.85,99.90,99.95,100.00,100.05], brYMinor = [99.825,99.875,99.925,99.975,100.025];

const notes = {
  tl: "Chancery MS\n300 K",
  tr: "Chancery MS\nrim without ink\n300 K",
  bl: "Chancery MS\n4.2 K",
  br: "Chancery MS\nrim without ink\n4.2 K"
};

// ---------- helpers ----------
const X = d => d[0], Y = d => d[1];
const commaFmt = n => d => d.toFixed(n).replace(".", ",");
const line = (data, stroke, w = 1.2) => Plot.line(data, {x: X, y: Y, stroke, strokeWidth: w, curve: "monotone-x", clip: true});
const dots = (data, r = 2.1) => Plot.dot(data, {x: X, y: Y, r, fill: "#000", stroke: "none", clip: true});

function panel(id, c) {
  const none = () => "";
  const axisStyle = {stroke: "#333", strokeWidth: 1.2, label: null};
  const svg = Plot.plot({
    width: c.width, height: c.height,
    marginLeft: c.ml, marginRight: c.mr, marginTop: c.mt, marginBottom: c.mb,
    x: {domain: c.xd, label: null},
    y: {domain: c.yd, label: null},
    style: {fontFamily: "'Liberation Sans', Arial, sans-serif", fontSize: "16px", color: "#222", background: "transparent", overflow: "visible", maxWidth: "none"},
    marks: [
      ...c.layers,
      Plot.frame({stroke: "#333", strokeWidth: 1.3}),
      Plot.axisX(c.xt, {anchor: "bottom", tickSize: 6, tickPadding: 3, tickFormat: d => String(d), ...axisStyle}),
      Plot.axisX(c.xm, {anchor: "bottom", tickSize: 3, tickFormat: none, ...axisStyle}),
      Plot.axisX(c.xt.concat(c.xm), {anchor: "top", tickSize: -4, tickFormat: none, ...axisStyle}),
      Plot.axisY(c.yt, {anchor: "left", tickSize: 6, tickPadding: 3, tickFormat: c.yf, ...axisStyle}),
      Plot.axisY(c.ym, {anchor: "left", tickSize: 3, tickFormat: none, ...axisStyle}),
      Plot.axisY(c.yt.concat(c.ym), {anchor: "right", tickSize: -4, tickFormat: none, ...axisStyle}),
      Plot.text([notes[id]], {text: d => d, frameAnchor: "bottom-right", textAnchor: "start", lineAnchor: "bottom", lineHeight: 1.22, dx: c.ndx, dy: c.ndy, fontSize: 16, fill: "#222"})
    ]
  });
  document.getElementById(id).appendChild(svg);
}

panel("tl", {
  width: 470, height: 320, ml: 86, mr: 6, mt: 14, mb: 29,
  xd: [-4.5, 4.5], yd: [95.5, 100.5],
  xt: tlXTicks, xm: tlXMinor, yt: tlYTicks, ym: tlYMinor, yf: d => String(d),
  ndx: -119, ndy: -14,
  layers: [dots(tlData, 2.2), line(tlFit, "#111", 1.3), line(tlOlive, "#a6ad5c"), line(tlPurple, "#7b3fa8"), line(tlOrange, "#eea743")]
});
panel("tr", {
  width: 470, height: 320, ml: 84, mr: 9, mt: 14, mb: 30,
  xd: [-4.5, 4.5], yd: [99.55, 100.05],
  xt: tlXTicks, xm: tlXMinor, yt: trYTicks, ym: trYMinor, yf: commaFmt(1),
  ndx: -124, ndy: -13,
  layers: [dots(trData, 2.1), line(trGreen, "#4cd64c", 1.4), line(trFit, "#123812", 1.3), line(trRed, "#e03444", 1.3)]
});
panel("bl", {
  width: 470, height: 330, ml: 89, mr: 5, mt: 28, mb: 26,
  xd: [-12.5, 12.5], yd: [98.3, 100.2],
  xt: lowXTicks, xm: lowXMinor, yt: blYTicks, ym: blYMinor, yf: commaFmt(1),
  ndx: -115, ndy: -10,
  layers: [dots(blData, 2.2), line(blFit, "#111", 1.3), line(blOlive, "#b5b947"), line(blBlue, "#3a3ac4"), line(blTeal, "#3fa8b8"), line(blOrange, "#f0a238"), line(blRed, "#e8414f")]
});
panel("br", {
  width: 470, height: 330, ml: 87, mr: 5, mt: 27, mb: 26,
  xd: [-12.6, 12.6], yd: [99.8, 100.05],
  xt: lowXTicks, xm: lowXMinor, yt: brYTicks, ym: brYMinor, yf: commaFmt(2),
  ndx: -124, ndy: -9,
  layers: [dots(brData, 2.2), line(brFit, "#111", 1.3), line(brRed, "#d92c3c", 1.3), line(brBlue, "#3b3be0", 1.3)]
});
</script>
</body></html>
